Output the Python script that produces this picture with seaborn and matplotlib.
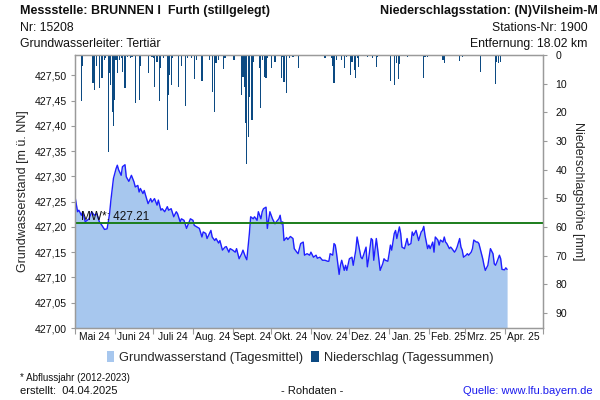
import numpy as np
import pandas as pd
import matplotlib
matplotlib.use("Agg")
import matplotlib.pyplot as plt
import matplotlib.dates as mdates
from matplotlib.patches import Patch
from matplotlib.ticker import FixedLocator, FuncFormatter
import seaborn as sns

# ---------------- data ----------------
start_date = "2024-05-01"
# groundwater level (daily means), day offset from start_date
gw_days = [0, 2, 3, 5, 6, 8, 11, 13, 15, 17, 19, 21, 23, 25, 26, 27, 28, 30, 32, 33, 34, 36, 37, 39, 40,
           42, 44, 46, 47, 49, 50, 51, 53, 54, 55, 57, 59, 60, 62, 64, 65, 67, 68, 70, 72, 73, 75, 77, 79,
           80, 82, 83, 85, 87, 89, 90, 92, 93, 95, 97, 99, 100, 102, 103, 106, 107, 109, 110, 112, 113,
           115, 117, 118, 120, 121, 123, 125, 126, 128, 130, 131, 133, 134, 136, 137, 139, 140, 142, 143,
           145, 146, 147, 149, 150, 151, 152, 154, 156, 157, 159, 160, 161, 162, 163, 165, 166, 168, 170,
           171, 173, 174, 176, 178, 179, 181, 183, 184, 186, 188, 189, 191, 193, 195, 197, 198, 199, 201,
           202, 203, 204, 206, 207, 208, 210, 211, 212, 214, 216, 217, 219, 220, 221, 223, 224, 225, 227,
           228, 229, 231, 232, 233, 235, 236, 238, 240, 241, 242, 244, 245, 246, 247, 249, 250, 251, 253,
           254, 255, 257, 258, 259, 260, 262, 263, 264, 266, 267, 268, 270, 271, 272, 273, 275, 276, 277,
           279, 280, 281, 283, 284, 285, 287, 288, 289, 290, 292, 293, 294, 296, 297, 298, 300, 301, 302,
           303, 305, 306, 307, 309, 310, 311, 313, 314, 315, 316, 318, 319, 320, 322, 323, 324, 326, 327,
           328, 329, 331, 332, 333, 335, 336, 337]
gw_values = [427.260, 427.230, 427.233, 427.223, 427.230, 427.210, 427.216, 427.230, 427.223, 427.226,
             427.210, 427.203, 427.195, 427.196, 427.210, 427.227, 427.253, 427.296, 427.315, 427.322,
             427.313, 427.302, 427.319, 427.323, 427.299, 427.290, 427.302, 427.289, 427.279, 427.282,
             427.269, 427.276, 427.266, 427.272, 427.263, 427.246, 427.256, 427.249, 427.256, 427.243,
             427.253, 427.233, 427.236, 427.230, 427.240, 427.233, 427.236, 427.220, 427.230, 427.226,
             427.210, 427.216, 427.213, 427.197, 427.210, 427.216, 427.213, 427.203, 427.200, 427.197,
             427.180, 427.190, 427.187, 427.177, 427.193, 427.180, 427.173, 427.177, 427.168, 427.173,
             427.154, 427.160, 427.161, 427.150, 427.157, 427.154, 427.150, 427.157, 427.137, 427.147,
             427.154, 427.140, 427.135, 427.187, 427.220, 427.216, 427.220, 427.213, 427.230, 427.216,
             427.230, 427.236, 427.239, 427.197, 427.213, 427.230, 427.216, 427.206, 427.210, 427.216,
             427.223, 427.206, 427.210, 427.173, 427.179, 427.175, 427.181, 427.177, 427.157, 427.150,
             427.147, 427.167, 427.170, 427.144, 427.147, 427.144, 427.150, 427.140, 427.144, 427.138,
             427.140, 427.134, 427.134, 427.132, 427.132, 427.147, 427.144, 427.167, 427.164, 427.147,
             427.106, 427.124, 427.134, 427.114, 427.124, 427.114, 427.137, 427.140, 427.124, 427.154,
             427.180, 427.167, 427.140, 427.137, 427.144, 427.160, 427.121, 427.137, 427.177, 427.174,
             427.134, 427.177, 427.157, 427.114, 427.127, 427.137, 427.134, 427.132, 427.147, 427.164,
             427.154, 427.187, 427.193, 427.177, 427.200, 427.187, 427.160, 427.157, 427.167, 427.177,
             427.164, 427.167, 427.190, 427.183, 427.193, 427.183, 427.173, 427.190, 427.193, 427.201,
             427.183, 427.157, 427.164, 427.157, 427.170, 427.150, 427.180, 427.174, 427.164, 427.174,
             427.170, 427.180, 427.170, 427.167, 427.157, 427.160, 427.157, 427.150, 427.154, 427.160,
             427.177, 427.160, 427.154, 427.140, 427.144, 427.147, 427.144, 427.150, 427.157, 427.174,
             427.170, 427.170, 427.167, 427.157, 427.137, 427.124, 427.114, 427.124, 427.140, 427.157,
             427.147, 427.127, 427.124, 427.130, 427.144, 427.137, 427.116, 427.115, 427.119, 427.116]

# precipitation (daily sums, mm), day offset from start_date
pr_days = [5, 6, 14, 15, 17, 19, 21, 23, 24, 26, 27, 28, 29, 30, 31, 32, 33, 35, 36, 37, 39, 41, 43, 44,
           45, 47, 50, 51, 57, 60, 61, 62, 64, 66, 67, 69, 72, 73, 74, 75, 76, 81, 83, 86, 88, 91, 93, 95,
           99, 105, 107, 109, 110, 112, 116, 117, 124, 130, 131, 132, 133, 134, 135, 136, 138, 139, 144,
           145, 146, 148, 149, 150, 153, 156, 161, 162, 163, 165, 167, 170, 174, 195, 200, 201, 202, 204,
           208, 210, 212, 215, 216, 218, 219, 220, 221, 228, 232, 235, 236, 246, 249, 251, 252, 253, 259,
           272, 273, 275, 287, 288, 300, 302, 316, 328, 329, 330, 332]
pr_values = [16.0, 4.0, 9.7, 12.2, 4.0, 11.6, 8.1, 1.7, 1.2, 34.0, 6.4, 10.5, 19.8, 24.7, 15.7, 1.7, 6.4,
             1.7, 1.2, 5.8, 11.6, 0.6, 1.2, 0.6, 0.6, 16.7, 15.7, 4.0, 6.4, 0.6, 1.2, 11.1, 2.3, 16.0, 4.7,
             1.2, 26.2, 14.0, 7.0, 10.5, 1.2, 11.1, 4.0, 17.7, 1.2, 1.2, 8.5, 1.7, 9.1, 1.7, 12.8, 19.8,
             2.9, 1.7, 4.9, 1.2, 1.7, 14.0, 7.6, 11.0, 23.9, 37.9, 28.5, 14.6, 22.7, 2.3, 4.6, 18.4, 1.7,
             7.6, 8.1, 1.2, 4.6, 2.3, 8.1, 0.6, 9.3, 13.4, 1.2, 0.8, 4.6, 1.2, 1.2, 3.7, 9.7, 1.7, 1.7,
             4.6, 0.8, 7.0, 2.3, 5.2, 7.9, 1.2, 4.3, 0.6, 1.2, 4.3, 0.6, 9.1, 10.5, 2.7, 8.4, 3.0, 0.8,
             8.1, 0.6, 0.6, 1.7, 2.9, 2.0, 0.6, 5.8, 10.1, 2.3, 2.9, 2.3]

mean_value = 427.207
mean_label = "MW*: 427.21"
month_labels = ["Mai 24", "Juni 24", "Juli 24", "Aug. 24", "Sept. 24", "Okt. 24", "Nov. 24",
                "Dez. 24", "Jan. 25", "Feb. 25", "Mrz. 25", "Apr. 25"]
left_ticks = [427.00, 427.05, 427.10, 427.15, 427.20, 427.25, 427.30, 427.35, 427.40, 427.45, 427.50]
right_ticks = [0, 10, 20, 30, 40, 50, 60, 70, 80, 90]

# ---------------- figure ----------------
sns.set_theme(style="white")
plt.rcParams['font.family'] = ['Liberation Sans', 'DejaVu Sans']

t0 = pd.Timestamp(start_date)
gw = pd.DataFrame({"date": t0 + pd.to_timedelta(gw_days, unit="D"), "value": gw_values})
pr = pd.DataFrame({"date": t0 + pd.to_timedelta(pr_days, unit="D"), "mm": pr_values})

fig = plt.figure(figsize=(6, 4), dpi=100)
ax = fig.add_axes([0.125, 0.18, 0.78, 0.6825])

GW_FILL = "#a7c7ee"
GW_LINE = "#1f1fff"
PR_COL = "#0c4a82"
GRAY = "#9a9a9a"

ax.fill_between(gw["date"], 427.0, gw["value"], color=GW_FILL, lw=0, zorder=1)
sns.lineplot(data=gw, x="date", y="value", ax=ax, color=GW_LINE, lw=1.0, zorder=3)
ax.axhline(mean_value, color="#1b7d1b", lw=1.4, zorder=4)
ax.text(pd.Timestamp("2024-05-06"), mean_value + 0.001, mean_label, fontsize=8.5,
        ha="left", va="bottom", color="#111111", zorder=5)

x_start = pd.Timestamp("2024-05-01")
x_end = pd.Timestamp("2025-05-01")
ax.set_xlim(x_start, x_end)
ax.set_ylim(427.0, 427.54)
ax.yaxis.set_major_locator(FixedLocator(left_ticks))
ax.yaxis.set_major_formatter(FuncFormatter(lambda v, p: f"{v:.2f}".replace(".", ",")))
ax.set_ylabel("Grundwasserstand [m ü. NN]", fontsize=9, labelpad=4)
ax.set_xlabel("")

month_starts = pd.date_range("2024-05-01", "2025-05-01", freq="MS")
mid_months = [m + pd.Timedelta(days=15) for m in month_starts[:-1]]
ax.xaxis.set_major_locator(FixedLocator(mdates.date2num(month_starts)))
ax.xaxis.set_major_formatter(FuncFormatter(lambda v, p: ""))
ax.set_xticks(mdates.date2num(mid_months), minor=True)
ax.set_xticklabels(month_labels, minor=True)
ax.tick_params(axis="x", which="major", length=4, width=0.8, color=GRAY, direction="out", bottom=True)
ax.tick_params(axis="x", which="minor", length=0, labelsize=7.4, pad=3, colors="#111111")
ax.tick_params(axis="y", which="major", length=3, width=0.8, color=GRAY, direction="out",
               left=True, labelsize=7.6, labelcolor="#111111", pad=3)
ax.grid(False)

# precipitation on twin axis (inverted)
ax2 = ax.twinx()
ax2.bar(pr["date"], pr["mm"], width=0.9, color=PR_COL, lw=0, align="center", zorder=2)
ax2.set_ylim(95.3, 0)
ax2.yaxis.set_major_locator(FixedLocator(right_ticks))
ax2.set_ylabel("Niederschlagshöhe [mm]", fontsize=9, rotation=270, labelpad=12)
ax2.tick_params(axis="y", length=3, width=0.8, color=GRAY, direction="out", right=True,
                labelsize=7.6, labelcolor="#111111", pad=6)
ax2.grid(False)
ax2.set_xlim(x_start, x_end)

for a in (ax, ax2):
    for s in a.spines.values():
        s.set_color(GRAY)
        s.set_linewidth(0.9)

# header
fig.text(0.033, 0.972, "Messstelle: BRUNNEN I  Furth (stillgelegt)", fontsize=9, fontweight="bold",
         ha="left", va="center", color="#111111")
fig.text(0.033, 0.93, "Nr: 15208", fontsize=8.8, ha="left", va="center", color="#111111")
fig.text(0.033, 0.89, "Grundwasserleiter: Tertiär", fontsize=8.8, ha="left", va="center", color="#111111")
fig.text(0.996, 0.972, "Niederschlagsstation: (N)Vilsheim-M", fontsize=9, fontweight="bold",
         ha="right", va="center", color="#111111")
fig.text(0.98, 0.93, "Stations-Nr: 1900", fontsize=8.8, ha="right", va="center", color="#111111")
fig.text(0.98, 0.89, "Entfernung: 18.02 km", fontsize=8.8, ha="right", va="center", color="#111111")

# legend
handles = [Patch(facecolor=GW_FILL, edgecolor="none", label="Grundwasserstand (Tagesmittel)"),
           Patch(facecolor=PR_COL, edgecolor="none", label="Niederschlag (Tagessummen)")]
fig.legend(handles=handles, loc="center", bbox_to_anchor=(0.5, 0.107), ncol=2, frameon=False,
           fontsize=9.2, handlelength=0.6, handleheight=1.0, handletextpad=0.4, columnspacing=0.6)

# footer
fig.text(0.033, 0.056, "* Abflussjahr (2012-2023)", fontsize=7, ha="left", va="center", color="#111111")
fig.text(0.033, 0.022, "erstellt:  04.04.2025", fontsize=8, ha="left", va="center", color="#111111")
fig.text(0.52, 0.022, "- Rohdaten -", fontsize=8, ha="center", va="center", color="#111111")
fig.text(0.987, 0.022, "Quelle: www.lfu.bayern.de", fontsize=8, ha="right", va="center", color="#1a1aee")

fig.savefig("out.png", dpi=100)
